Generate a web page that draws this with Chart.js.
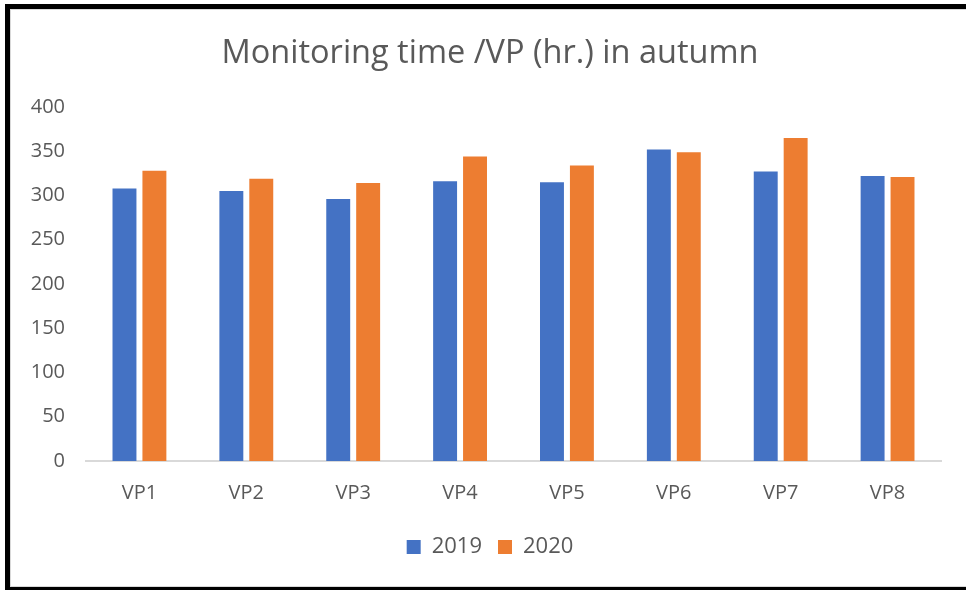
<!DOCTYPE html>
<html>
<head>
<meta charset="utf-8">
<script src="https://cdn.jsdelivr.net/npm/chart.js@4"></script>
<style>
  html, body { margin: 0; padding: 0; background: #fff; overflow: hidden; }
  #frame {
    position: absolute; left: 5px; top: 4px;
    width: 990px; height: 578px;
    border: 5px solid #000;
  }
  #inner {
    width: 988px; height: 576px;
    border: 1px solid #d9d9d9;
  }
  canvas { display: block; }
</style>
</head>
<body>
<div id="frame"><div id="inner"><canvas id="chart" width="958" height="576"></canvas></div></div>
<script>
    // ─── Data ───────────────────────────────────────────────────
    const categories = ['VP1', 'VP2', 'VP3', 'VP4', 'VP5', 'VP6', 'VP7', 'VP8'];
    const values2019 = [308, 305, 296, 316, 315, 352, 327, 322];
    const values2020 = [328, 319, 314, 344, 334, 349, 365, 321];
    const seriesLabels = ['2019', '2020'];
    const yTicks = [0, 50, 100, 150, 200, 250, 300, 350, 400];

    const TEXT = '#595959';
    const FONT = "'Open Sans', sans-serif";

    new Chart(document.getElementById('chart'), {
        type: 'bar',
        data: {
            labels: categories,
            datasets: [
                { label: seriesLabels[0], data: values2019, backgroundColor: '#4472C4' },
                { label: seriesLabels[1], data: values2020, backgroundColor: '#ED7D31' },
            ],
        },
        options: {
            responsive: false,
            animation: false,
            categoryPercentage: 0.56,
            barPercentage: 0.8,
            layout: { padding: { left: 0, right: 0, top: 0, bottom: 18 } },
            plugins: {
                title: {
                    display: true,
                    text: 'Monitoring time /VP (hr.) in autumn',
                    color: TEXT,
                    font: { family: FONT, size: 32.5, weight: 'normal', lineHeight: 1.2 },
                    padding: { top: 24.5, bottom: 33.5 },
                },
                legend: {
                    position: 'bottom',
                    labels: {
                        color: TEXT,
                        font: { family: FONT, size: 22 },
                        boxWidth: 14,
                        boxHeight: 14,
                        padding: 16,
                    },
                },
                tooltip: { enabled: false },
            },
            scales: {
                x: {
                    afterFit(scale) { scale.height -= 5; },
                    grid: { display: false, drawTicks: false },
                    border: { color: '#d9d9d9', width: 2 },
                    ticks: { color: TEXT, font: { family: FONT, size: 20 }, padding: 20 },
                },
                y: {
                    min: 0,
                    max: 400,
                    afterBuildTicks(scale) {
                        scale.ticks = yTicks.map(v => ({ value: v }));
                    },
                    afterFit(scale) { scale.width = 75; },
                    grid: { display: false, drawTicks: false },
                    border: { display: false },
                    ticks: { color: TEXT, font: { family: FONT, size: 20 }, padding: 21 },
                },
                // empty right-hand spacer so the plot ends where the original does
                spacer: {
                    type: 'linear',
                    position: 'right',
                    afterFit(scale) { scale.width = 28; },
                    grid: { display: false, drawTicks: false },
                    border: { display: false },
                    ticks: { display: false },
                },
            },
        },
    });
</script>
</body>
</html>
